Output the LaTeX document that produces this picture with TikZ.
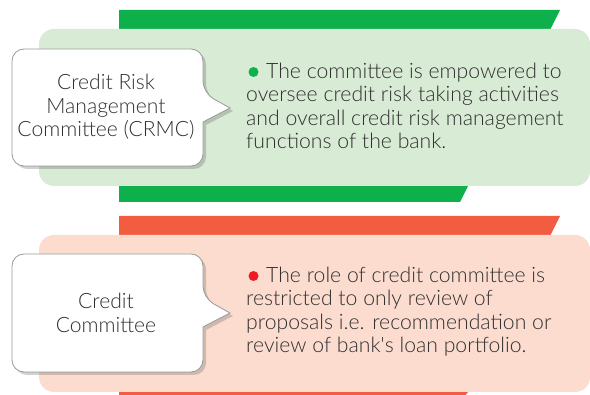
\documentclass[tikz,border=0pt]{standalone}
\usepackage{fontspec}
\IfFontExistsTF{Lato Light}{\setmainfont{Lato Light}}{\setmainfont{Lato}}
\usetikzlibrary{shadows}
\definecolor{gband}{HTML}{0DB04B}
\definecolor{gbox}{HTML}{D8EBD4}
\definecolor{rband}{HTML}{F25C40}
\definecolor{rbox}{HTML}{FBDCCF}
\definecolor{txt}{HTML}{303030}
\definecolor{gdot}{HTML}{0DB04B}
\definecolor{rdot}{HTML}{ED1C24}
\tikzset{
  callout/.style={fill=white, draw=black!40, line width=0.8pt,
    drop shadow={shadow xshift=3pt, shadow yshift=-3pt, opacity=0.3, fill=black!60}},
  calltext/.style={font=\fontsize{21.1}{23.5}\selectfont, text=txt, align=center, inner sep=0pt},
  bodytext/.style={font=\fontsize{21.2}{23.6}\selectfont, text=txt, align=left, anchor=north west, inner sep=0pt},
}
\begin{document}
\begin{tikzpicture}[x=1pt,y=-1pt]
\useasboundingbox (0,0) rectangle (590,395);
% ---- green section ----
\fill[gband] (119,10) -- (560,10) -- (540,50) -- (119,50) -- cycle;
\fill[gband] (119,186) -- (468,186) -- (460,202) -- (119,202) -- cycle;
\fill[gbox, rounded corners=15] (39,29) rectangle (590,186);
\draw[callout, rounded corners=12] (12,49) -- (203,49) -- (203,93) [sharp corners] -- (230,108) -- (203,122) [rounded corners=12] -- (203,166) -- (12,166) -- cycle;
\node[calltext] (crmc) at (106,107) {Credit Risk\\Management\\Committee (CRMC)};
\fill[gdot] (253.5,72) circle (5) coordinate (gb);
\node[bodytext] (crmcdesc) at (246,62.5) {\hspace{20pt}The committee is empowered to\\oversee credit risk taking activities\\and overall credit risk management\\functions of the bank.};
% ---- red section ----
\fill[rband] (119,216) -- (560,216) -- (540,256) -- (119,256) -- cycle;
\fill[rband] (119,392) -- (468,392) -- (460,402) -- (119,402) -- cycle;
\fill[rbox, rounded corners=15] (39,235) rectangle (590,392);
\draw[callout, rounded corners=12] (12,254) -- (203,254) -- (203,298) [sharp corners] -- (230,313) -- (203,327) [rounded corners=12] -- (203,372) -- (12,372) -- cycle;
\node[calltext] (cc) at (106,313) {Credit\\Committee};
\fill[rdot] (253.5,276) circle (5) coordinate (rb);
\node[bodytext] (ccdesc) at (246,266.5) {\hspace{20pt}The role of credit committee is\\restricted to only review of\\proposals i.e. recommendation or\\review of bank\textquotesingle s loan portfolio.};
\end{tikzpicture}
\end{document}
